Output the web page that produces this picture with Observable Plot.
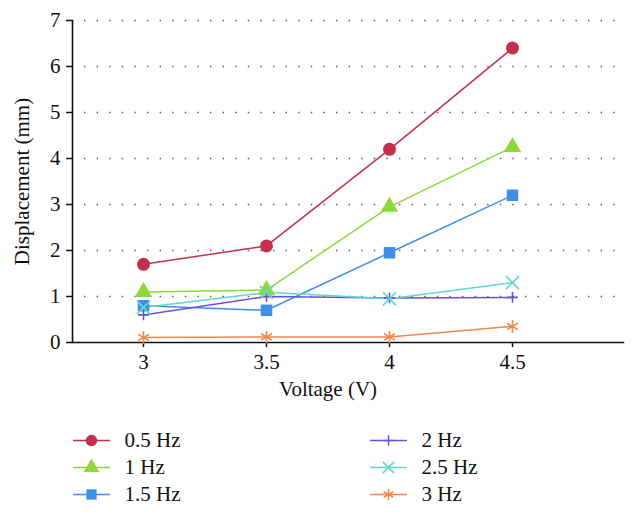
<!DOCTYPE html>
<html lang="en">
<head>
<meta charset="UTF-8">
<script src="https://cdn.jsdelivr.net/npm/d3@7"></script>
<script src="https://cdn.jsdelivr.net/npm/@observablehq/plot@0.6"></script>
<style>
  body { margin: 0; background: #fff; }
  #chart svg, #legend svg { display: block; }
</style>
</head>
<body>
<div id="chart"></div>
<div id="legend"></div>
<script>
const voltage = [3, 3.5, 4, 4.5];
const series = ["0.5 Hz", "1 Hz", "1.5 Hz", "2 Hz", "2.5 Hz", "3 Hz"];
const hz05 = [1.7, 2.1, 4.2, 6.4];
const hz1 = [1.1, 1.14, 2.95, 4.25];
const hz15 = [0.8, 0.7, 1.95, 3.2];
const hz2 = [0.6, 1.0, 0.97, 0.98];
const hz25 = [0.76, 1.09, 0.95, 1.3];
const hz3 = [0.11, 0.12, 0.12, 0.35];
const yTicks = [0, 1, 2, 3, 4, 5, 6, 7];
const colors = ["#c42f4c", "#8ed83a", "#3d8fe8", "#6b4fd9", "#5fd8cf", "#f2874c"];
const symbols = ["circle", "triangle", "square", "plus", "times", "asterisk"];

const values = [hz05, hz1, hz15, hz2, hz25, hz3];
const data = series.flatMap((s, i) => voltage.map((v, j) => ({series: s, voltage: v, disp: values[i][j]})));
const filled = new Set(series.slice(0, 3));
const font = "'Liberation Serif', 'Times New Roman', serif";
const fs = 21;

const colorOpt = {domain: series, range: colors};
const symbolOpt = {domain: series, range: symbols};

const chart = Plot.plot({
  width: 638,
  height: 410,
  marginLeft: 72, marginRight: 15, marginTop: 20, marginBottom: 68,
  style: {fontFamily: font, fontSize: fs + "px", color: "#111", background: "#fff"},
  x: {domain: [3, 4.5], range: [143, 512]},
  y: {domain: [0, 7]},
  color: colorOpt,
  symbol: symbolOpt,
  marks: [
    Plot.gridY(yTicks.slice(1), {stroke: "#555", strokeOpacity: 1, strokeWidth: 1.4, strokeDasharray: "1.4,11.2", strokeDashoffset: -12}),
    Plot.frame({anchor: "left", stroke: "#111", strokeWidth: 1.6}),
    Plot.frame({anchor: "bottom", stroke: "#111", strokeWidth: 1.6}),
    Plot.axisY(yTicks, {tickSize: 6, tickPadding: 6, stroke: "#111", strokeWidth: 1.5,
      label: "Displacement (mm)", labelAnchor: "center", labelArrow: "none", labelOffset: 58, fontSize: fs}),
    Plot.axisX(voltage, {tickSize: 5, tickPadding: 7, stroke: "#111", strokeWidth: 1.5,
      label: null, tickFormat: d => String(d), fontSize: fs}),
    Plot.text(["Voltage (V)"], {x: [d3.mean(voltage)], text: d => d, frameAnchor: "bottom", dy: 53, fontSize: fs}),
    Plot.line(data, {x: "voltage", y: "disp", z: "series", stroke: "series", strokeWidth: 1.5}),
    Plot.dot(data, {filter: d => filled.has(d.series), x: "voltage", y: "disp", symbol: "series", fill: "series", r: 6.5}),
    Plot.dot(data, {filter: d => d.series === "2 Hz", x: "voltage", y: "disp", symbol: "series", stroke: "series", strokeWidth: 1.6, r: 3.6}),
    Plot.dot(data, {filter: d => d.series === "2.5 Hz" || d.series === "3 Hz", x: "voltage", y: "disp", symbol: "series", stroke: "series", strokeWidth: 1.6, r: 6})
  ]
});
document.querySelector("#chart").append(chart);

// legend, two columns of three
const legendData = series.map((s, i) => ({series: s, col: Math.floor(i / 3), row: i % 3}));
const legend = Plot.plot({
  width: 638,
  height: 105,
  margin: 0,
  style: {fontFamily: font, fontSize: fs + "px", color: "#111", background: "#fff"},
  x: {domain: [0, 1], range: [91, 388], axis: null},
  y: {domain: [0, 2], range: [30, 84], axis: null},
  color: colorOpt,
  symbol: symbolOpt,
  marks: [
    Plot.link(legendData, {x1: d => d.col - 0.062, x2: d => d.col + 0.062, y1: "row", y2: "row", stroke: "series", strokeWidth: 1.5}),
    Plot.dot(legendData, {filter: d => filled.has(d.series), x: "col", y: "row", symbol: "series", fill: "series", r: 5.8}),
    Plot.dot(legendData, {filter: d => d.series === "2 Hz", x: "col", y: "row", symbol: "series", stroke: "series", strokeWidth: 1.5, r: 3.4}),
    Plot.dot(legendData, {filter: d => d.series === "2.5 Hz" || d.series === "3 Hz", x: "col", y: "row", symbol: "series", stroke: "series", strokeWidth: 1.5, r: 5.2}),
    Plot.text(legendData, {x: d => d.col + 0.111, y: "row", text: "series", textAnchor: "start", fontSize: fs})
  ]
});
document.querySelector("#legend").append(legend);
</script>
</body>
</html>
